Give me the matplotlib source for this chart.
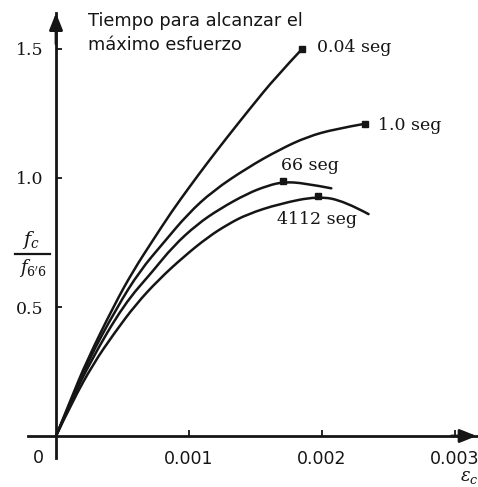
import matplotlib
matplotlib.use("Agg")
import matplotlib.pyplot as plt
from matplotlib.lines import Line2D
from matplotlib.path import Path
from matplotlib.patches import PathPatch

# ---- datos ----
strain_004 = [0, 0.00011, 0.00023, 0.00044, 0.00058, 0.00073, 0.00087, 0.00101,
              0.00114, 0.00129, 0.00146, 0.00165, 0.00185]
stress_004 = [0, 0.14, 0.29, 0.51, 0.64, 0.76, 0.87, 0.97, 1.06, 1.16, 1.27, 1.39, 1.50]

strain_1 = [0, 0.00011, 0.00024, 0.00046, 0.00063, 0.00081, 0.00099, 0.00118,
            0.00144, 0.00168, 0.00189, 0.0021, 0.00232]
stress_1 = [0, 0.13, 0.29, 0.50, 0.64, 0.75, 0.86, 0.95, 1.04, 1.11, 1.16, 1.19, 1.21]

strain_66 = [0, 0.00011, 0.00026, 0.00051, 0.00073, 0.00088, 0.00106, 0.00123,
             0.00144, 0.00159, 0.00171, 0.00187, 0.00207]
stress_66 = [0, 0.13, 0.29, 0.51, 0.64, 0.735, 0.82, 0.88, 0.94, 0.97, 0.985, 0.98, 0.96]

strain_4112 = [0, 0.00012, 0.00028, 0.00044, 0.0006, 0.00077, 0.00096, 0.00114,
               0.00129, 0.00144, 0.00168, 0.00197, 0.00217, 0.00235]
stress_4112 = [0, 0.13, 0.28, 0.40, 0.51, 0.605, 0.695, 0.77, 0.82, 0.86, 0.90, 0.93, 0.91, 0.86]

# puntos marcados (esfuerzo maximo)
peak_strain = [0.00185, 0.00232, 0.00171, 0.00197]
peak_stress = [1.50, 1.21, 0.99, 0.93]

curve_labels = ["0.04 seg", "1.0 seg", "66 seg", "4112 seg"]

x_ticks = [0.001, 0.002, 0.003]
x_ticklabels = ["0.001", "0.002", "0.003"]
y_ticks = [0.5, 1.0, 1.5]
y_ticklabels = ["0.5", "1.0", "1.5"]

ink = "#151515"


def smooth_path(xs, ys):
    # curva cuadratica suave usando los puntos como puntos de control
    pts = list(zip(xs, ys))
    verts = [pts[0]]
    codes = [Path.MOVETO]
    for i in range(1, len(pts) - 1):
        if i < len(pts) - 2:
            end = ((pts[i][0] + pts[i + 1][0]) / 2, (pts[i][1] + pts[i + 1][1]) / 2)
        else:
            end = pts[i + 1]
        verts += [pts[i], end]
        codes += [Path.CURVE3, Path.CURVE3]
    return Path(verts, codes)


# ---- figura ----
W, H = 478, 487
fig = plt.figure(figsize=(W / 100, H / 100), dpi=100)
fig.patch.set_facecolor("white")
plt.rcParams["mathtext.fontset"] = "dejavuserif"

# ejes en pixeles: izquierda 28, derecha 478, abajo 458, arriba 13
ax = fig.add_axes([28 / W, (H - 458) / H, 450 / W, 445 / H])
xmin, xmax = (28 - 56) / 133000, (478 - 56) / 133000
ymin, ymax = (436 - 458) / 258, (436 - 13) / 258
ax.set_xlim(xmin, xmax)
ax.set_ylim(ymin, ymax)
ax.set_facecolor("none")

for sp in ["top", "right"]:
    ax.spines[sp].set_visible(False)
for sp in ["left", "bottom"]:
    ax.spines[sp].set_position(("data", 0))
    ax.spines[sp].set_linewidth(2)
    ax.spines[sp].set_color(ink)

# flechas de los ejes
arrow = dict(arrowstyle="-|>,head_length=0.5,head_width=0.2", color=ink, lw=2,
             shrinkA=0, shrinkB=0, mutation_scale=20)
ax.annotate("", xy=(xmax - 0.00001, 0), xytext=(xmax - 0.0002, 0), arrowprops=arrow)
ax.annotate("", xy=(0, ymax), xytext=(0, ymax - 0.12), arrowprops=arrow)

# curvas
curves = [(strain_004, stress_004), (strain_1, stress_1),
          (strain_66, stress_66), (strain_4112, stress_4112)]
for s, f in curves:
    ax.add_patch(PathPatch(smooth_path(s, f), facecolor="none", edgecolor=ink,
                           lw=1.8, capstyle="round"))
ax.plot(peak_strain, peak_stress, "s", color=ink, ms=4.5)

# etiquetas de curvas
lab_font = dict(family="DejaVu Serif", fontsize=12.5, color=ink)
ax.text(0.00196, 1.504, curve_labels[0], ha="left", va="center", **lab_font)
ax.text(0.00242, 1.205, curve_labels[1], ha="left", va="center", **lab_font)
ax.text(0.00191, 1.047, curve_labels[2], ha="center", va="center", **lab_font)
ax.text(0.00196, 0.841, curve_labels[3], ha="center", va="center", **lab_font)

# ticks
ax.set_xticks(x_ticks)
ax.set_xticklabels(x_ticklabels, family="DejaVu Sans", fontsize=12.5, color=ink)
ax.set_yticks(y_ticks)
ax.set_yticklabels(y_ticklabels, family="DejaVu Serif", fontsize=12.5, color=ink)
ax.tick_params(axis="x", direction="in", length=4, width=1.3, pad=10, colors=ink)
ax.tick_params(axis="y", direction="in", length=4, width=1.3, pad=9, colors=ink)

# "0" del origen
fig.text(38 / W, 1 - 458 / H, "0", ha="center", va="center",
         family="DejaVu Sans", fontsize=12.5, color=ink)

# titulo
fig.text(88 / W, 1 - 12 / H, "Tiempo para alcanzar el\nmáximo esfuerzo",
         ha="left", va="top", family="DejaVu Sans", fontsize=12.8,
         linespacing=1.45, color=ink)

# etiqueta eje y (fraccion)
fig.text(31 / W, 1 - 240 / H, r"$f_c$", ha="center", va="center", fontsize=14, color=ink)
fig.add_artist(Line2D([15 / W, 50 / W], [1 - 254 / H, 1 - 254 / H], color=ink, lw=1.6))
fig.text(33 / W, 1 - 268 / H, r"$f_{6'6}$", ha="center", va="center", fontsize=13, color=ink)

# etiqueta eje x
fig.text(469 / W, 1 - 477 / H, r"$\varepsilon_c$", ha="center", va="center",
         fontsize=13, color=ink)

fig.savefig("out.png", dpi=100)
